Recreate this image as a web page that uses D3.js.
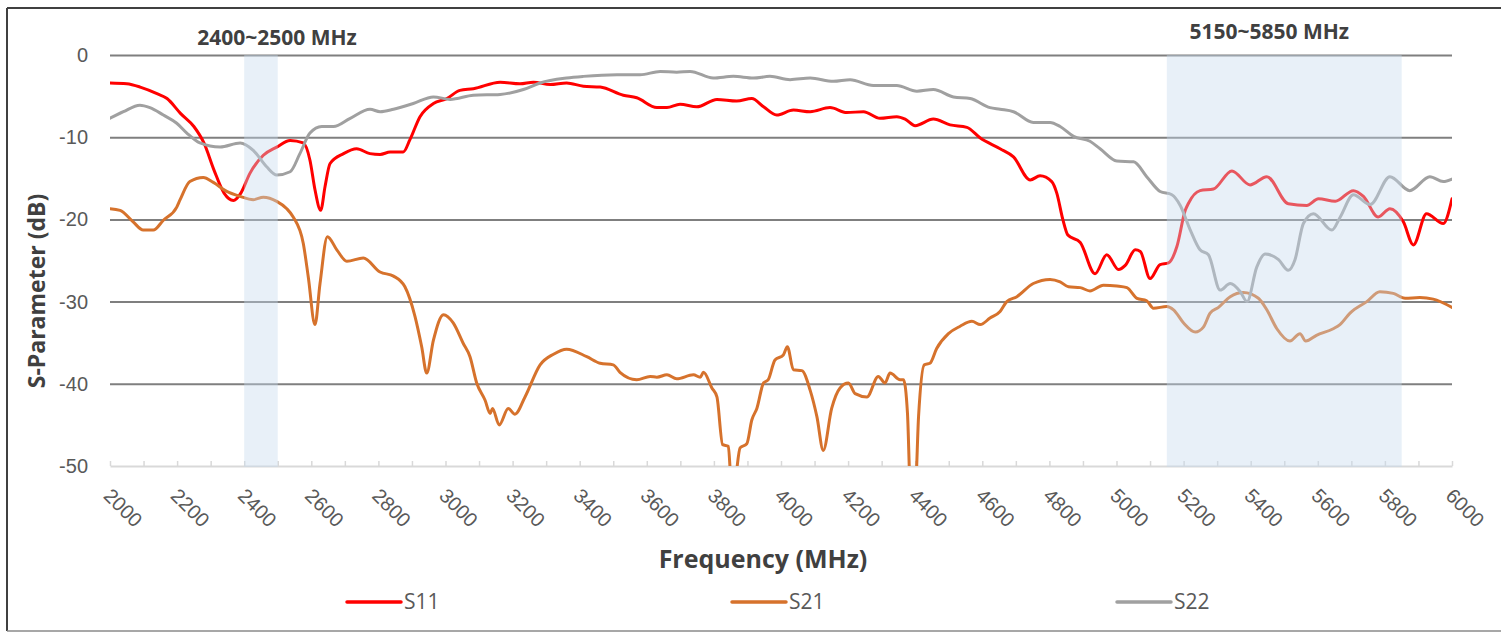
<!DOCTYPE html>
<html>
<head>
<meta charset="utf-8">
<script src="https://cdn.jsdelivr.net/npm/d3@7"></script>
<style>
  html, body { margin: 0; padding: 0; background: #ffffff; }
  svg { display: block; font-family: "Open Sans", "Noto Sans", sans-serif; }
</style>
</head>
<body>
<svg id="chart" width="1501" height="632"></svg>
<script>
// Measured S-parameters of the filter, [frequency MHz, dB]
const s11 = [[2000,-3.4],[2050,-3.5],[2090,-3.9],[2140,-4.7],[2170,-5.3],[2210,-7.1],[2250,-8.7],[2280,-10.7],[2310,-14.0],[2340,-16.8],[2368,-17.7],[2390,-16.8],[2417,-14.4],[2457,-12.2],[2497,-11.2],[2537,-10.4],[2576,-10.7],[2596,-12.8],[2611,-16.4],[2628,-18.9],[2641,-16.0],[2656,-13.2],[2696,-12.0],[2735,-11.4],[2775,-12.0],[2805,-12.1],[2835,-11.8],[2874,-11.8],[2894,-10.3],[2924,-7.5],[2964,-5.9],[3004,-5.3],[3043,-4.3],[3083,-4.1],[3163,-3.3],[3222,-3.5],[3262,-3.3],[3312,-3.6],[3361,-3.4],[3411,-3.8],[3461,-3.9],[3530,-4.9],[3570,-5.2],[3630,-6.4],[3660,-6.4],[3699,-6.0],[3749,-6.3],[3809,-5.4],[3868,-5.6],[3913,-5.3],[3948,-6.3],[3987,-7.3],[4037,-6.7],[4087,-6.9],[4146,-6.4],[4196,-7.0],[4246,-6.9],[4295,-7.7],[4345,-7.5],[4370,-7.8],[4400,-8.6],[4454,-7.8],[4504,-8.5],[4554,-8.8],[4594,-10.1],[4653,-11.4],[4693,-12.4],[4743,-15.2],[4772,-14.7],[4807,-15.4],[4822,-16.8],[4840,-20.0],[4855,-21.9],[4892,-22.8],[4936,-26.6],[4971,-24.3],[5006,-26.1],[5026,-25.6],[5056,-23.7],[5071,-23.9],[5100,-27.2],[5130,-25.5],[5155,-25.3],[5180,-23.3],[5205,-18.9],[5215,-18.0],[5249,-16.5],[5289,-16.3],[5344,-14.1],[5398,-15.8],[5448,-14.8],[5512,-18.1],[5567,-18.3],[5602,-17.5],[5652,-17.8],[5706,-16.5],[5736,-17.2],[5780,-19.7],[5815,-18.7],[5855,-20.3],[5885,-23.1],[5924,-19.3],[5974,-20.5],[6000,-17.5]];

const s21 = [[2000,-18.7],[2030,-18.9],[2069,-20.3],[2099,-21.3],[2129,-21.3],[2159,-20.1],[2199,-18.5],[2209,-17.6],[2238,-15.4],[2278,-14.9],[2308,-15.5],[2348,-16.6],[2388,-17.2],[2427,-17.6],[2457,-17.3],[2497,-17.8],[2527,-18.7],[2546,-19.7],[2576,-22.9],[2591,-27.0],[2611,-32.8],[2626,-27.8],[2648,-22.1],[2676,-23.7],[2706,-25.1],[2755,-24.7],[2805,-26.4],[2845,-26.9],[2879,-28.2],[2909,-31.8],[2929,-35.5],[2944,-38.7],[2964,-34.7],[2994,-31.6],[3023,-32.6],[3053,-35.1],[3073,-36.7],[3093,-39.9],[3118,-42.0],[3133,-43.6],[3140,-43.0],[3160,-45.0],[3187,-43.0],[3207,-43.7],[3237,-41.6],[3282,-37.7],[3322,-36.4],[3361,-35.8],[3421,-36.7],[3461,-37.5],[3500,-37.7],[3520,-38.6],[3570,-39.5],[3610,-39.1],[3630,-39.2],[3660,-38.9],[3689,-39.4],[3739,-38.9],[3759,-39.2],[3769,-38.6],[3794,-40.5],[3809,-41.6],[3826,-47.4],[3843,-47.6],[3852,-52.0],[3861,-52.0],[3878,-47.8],[3898,-47.3],[3913,-44.4],[3928,-43.0],[3948,-39.9],[3962,-39.5],[3982,-37.1],[4007,-36.5],[4019,-35.5],[4037,-38.3],[4062,-38.4],[4087,-40.8],[4107,-44.0],[4126,-48.1],[4151,-43.0],[4176,-40.5],[4201,-39.9],[4221,-41.2],[4256,-41.6],[4290,-39.1],[4310,-39.9],[4325,-38.7],[4355,-39.5],[4365,-39.5],[4377,-43.6],[4386,-53.0],[4400,-53.0],[4410,-44.0],[4427,-37.7],[4444,-37.5],[4464,-35.7],[4499,-33.9],[4534,-33.0],[4569,-32.4],[4594,-32.8],[4623,-32.0],[4653,-31.2],[4673,-30.0],[4703,-29.4],[4752,-27.8],[4802,-27.3],[4832,-27.6],[4857,-28.2],[4892,-28.3],[4921,-28.7],[4961,-28.0],[5001,-28.1],[5031,-28.3],[5061,-29.6],[5090,-29.9],[5110,-30.8],[5150,-30.6],[5170,-31.0],[5200,-32.6],[5235,-33.7],[5259,-33.1],[5279,-31.4],[5304,-30.7],[5339,-29.4],[5378,-28.9],[5423,-29.6],[5448,-31.0],[5478,-33.3],[5517,-34.8],[5547,-33.9],[5564,-34.8],[5596,-34.1],[5646,-33.3],[5666,-32.8],[5696,-31.4],[5746,-30.0],[5785,-28.8],[5825,-29.0],[5860,-29.6],[5904,-29.5],[5944,-29.7],[6000,-30.7]];

const s22 = [[2000,-7.7],[2040,-6.9],[2089,-6.1],[2119,-6.4],[2159,-7.3],[2199,-8.3],[2229,-9.5],[2268,-10.7],[2328,-11.2],[2388,-10.7],[2427,-11.6],[2467,-13.6],[2497,-14.6],[2537,-14.2],[2566,-12.0],[2596,-9.5],[2631,-8.7],[2666,-8.7],[2716,-7.7],[2775,-6.6],[2805,-6.9],[2845,-6.6],[2904,-5.9],[2964,-5.1],[3014,-5.4],[3083,-4.9],[3163,-4.8],[3232,-4.2],[3282,-3.4],[3361,-2.8],[3411,-2.6],[3511,-2.4],[3580,-2.4],[3640,-2.0],[3689,-2.1],[3729,-2.0],[3798,-2.8],[3858,-2.6],[3918,-2.8],[3967,-2.6],[4027,-3.0],[4087,-2.8],[4156,-3.2],[4206,-3.0],[4275,-3.7],[4345,-3.7],[4405,-4.4],[4454,-4.2],[4514,-5.1],[4564,-5.3],[4623,-6.4],[4653,-6.6],[4693,-6.9],[4752,-8.2],[4802,-8.2],[4832,-8.7],[4872,-9.9],[4921,-10.5],[4951,-11.4],[5001,-12.9],[5051,-13.0],[5090,-14.8],[5130,-16.6],[5165,-17.0],[5190,-18.3],[5220,-21.3],[5249,-23.7],[5274,-24.3],[5309,-28.6],[5339,-27.8],[5369,-28.8],[5389,-30.0],[5418,-25.8],[5443,-24.2],[5483,-24.9],[5512,-26.2],[5532,-24.9],[5557,-20.5],[5587,-19.3],[5642,-21.3],[5667,-19.7],[5706,-17.0],[5756,-18.2],[5815,-14.8],[5874,-16.5],[5934,-14.8],[5974,-15.4],[6000,-15.1]];

// Frequency bands of interest (MHz)
const bands = [[2400, 2500], [5150, 5850]];
const bandLabels = ["2400~2500 MHz", "5150~5850 MHz"];

// Axis ticks
const xMajorTicks = d3.range(2000, 6001, 200);
const xMinorTicks = d3.range(2000, 6001, 100);
const yTicks = [0, -10, -20, -30, -40, -50];

const seriesNames = ["S11", "S21", "S22"];
const seriesColors = ["#ff0000", "#d6722c", "#a0a0a0"];
const seriesData = [s11, s21, s22];

const svg = d3.select("#chart");
const W = 1501, H = 632;
const margin = { left: 110, top: 55, right: 49, bottom: 166 };
const pw = W - margin.left - margin.right;
const ph = H - margin.top - margin.bottom;

// outer frame
svg.append("line").attr("x1", 7).attr("x2", W).attr("y1", 8).attr("y2", 8)
  .attr("stroke", "#404040").attr("stroke-width", 2);
svg.append("line").attr("x1", 7).attr("x2", 7).attr("y1", 8).attr("y2", 631)
  .attr("stroke", "#404040").attr("stroke-width", 2);
svg.append("line").attr("x1", 7).attr("x2", W).attr("y1", 631).attr("y2", 631)
  .attr("stroke", "#8a8a8a").attr("stroke-width", 1.5);

const x = d3.scaleLinear().domain([2000, 6000]).range([0, pw]);
const y = d3.scaleLinear().domain([-50, 0]).range([ph, 0]);

const g = svg.append("g").attr("transform", `translate(${margin.left},${margin.top})`);

// horizontal gridlines + y labels
const yAxis = g.append("g")
  .call(d3.axisLeft(y).tickValues(yTicks).tickSize(-pw).tickPadding(22).tickFormat(d3.format("d")));
yAxis.select(".domain").remove();
yAxis.selectAll(".tick line")
  .attr("stroke", d => d === -50 ? "none" : "#7f7f7f")
  .attr("stroke-width", 2);
yAxis.selectAll(".tick text")
  .attr("fill", "#595959").attr("font-size", 20)
  .text(d => d === 0 ? "0" : d3.format("d")(d).replace("−", "-"));

// bottom axis line with small upward ticks
const xAxisMinor = g.append("g").attr("transform", `translate(0,${ph})`)
  .call(d3.axisBottom(x).tickValues(xMinorTicks).tickSize(-5).tickSizeOuter(0).tickFormat(""));
xAxisMinor.select(".domain").attr("stroke", "#d9d9d9").attr("stroke-width", 2);
xAxisMinor.selectAll(".tick line").attr("stroke", "#d9d9d9").attr("stroke-width", 1.5);

// rotated frequency labels
const xAxisLabels = g.append("g").attr("transform", `translate(0,${ph})`)
  .call(d3.axisBottom(x).tickValues(xMajorTicks).tickSize(0).tickFormat(d3.format("d")));
xAxisLabels.select(".domain").remove();
xAxisLabels.selectAll(".tick text")
  .attr("fill", "#595959").attr("font-size", 20)
  .attr("text-anchor", "start")
  .attr("dy", 0).attr("y", 0)
  .attr("transform", "translate(-8,31) rotate(45)");

// series lines, clipped to the plot area
svg.append("defs").append("clipPath").attr("id", "plotClip")
  .append("rect").attr("x", 0).attr("y", 0).attr("width", pw).attr("height", ph);

const line = d3.line()
  .x(d => x(d[0]))
  .y(d => y(d[1]))
  .curve(d3.curveMonotoneX);

const lines = g.append("g").attr("clip-path", "url(#plotClip)");
seriesData.forEach((data, i) => {
  lines.append("path")
    .datum(data)
    .attr("fill", "none")
    .attr("stroke", seriesColors[i])
    .attr("stroke-width", 3)
    .attr("stroke-linejoin", "round")
    .attr("stroke-linecap", "round")
    .attr("d", line);
});

// translucent band highlights over the traces
g.selectAll("rect.band").data(bands).join("rect")
  .attr("class", "band")
  .attr("x", d => x(d[0]))
  .attr("width", d => x(d[1]) - x(d[0]))
  .attr("y", y(0))
  .attr("height", y(-50) - y(0) + 1)
  .attr("fill", "rgb(198,218,238)")
  .attr("fill-opacity", 0.4);

// band captions
const bandLabelOffset = [16, -15];
const bandLabelY = [-10, -16];
g.selectAll("text.bandLabel").data(bands).join("text")
  .attr("class", "bandLabel")
  .attr("x", (d, i) => x((d[0] + d[1]) / 2) + bandLabelOffset[i])
  .attr("y", (d, i) => bandLabelY[i])
  .attr("text-anchor", "middle")
  .attr("font-size", 21)
  .attr("font-weight", "bold")
  .attr("fill", "#404040")
  .text((d, i) => bandLabels[i]);

// axis titles
svg.append("text")
  .attr("transform", "translate(45,291) rotate(-90)")
  .attr("text-anchor", "middle")
  .attr("font-size", 23)
  .attr("font-weight", "bold")
  .attr("fill", "#404040")
  .text("S-Parameter (dB)");

svg.append("text")
  .attr("x", margin.left + x(4000) - 18)
  .attr("y", 568)
  .attr("text-anchor", "middle")
  .attr("font-size", 25)
  .attr("font-weight", "bold")
  .attr("fill", "#404040")
  .text("Frequency (MHz)");

// legend
const legend = svg.append("g").attr("transform", "translate(347,602)");
seriesNames.forEach((name, i) => {
  const item = legend.append("g").attr("transform", `translate(${i * 385},0)`);
  item.append("line").attr("x1", 0).attr("x2", 54).attr("y1", 0).attr("y2", 0)
    .attr("stroke", seriesColors[i]).attr("stroke-width", 3.5).attr("stroke-linecap", "round");
  item.append("text").attr("x", 57).attr("y", 0).attr("dy", "0.35em")
    .attr("font-size", 21).attr("fill", "#595959").text(name);
});
</script>
</body>
</html>
